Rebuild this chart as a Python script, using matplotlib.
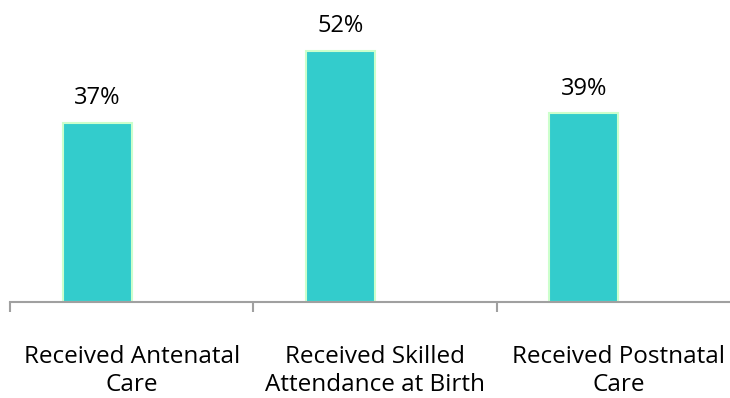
import numpy as np
import matplotlib.pyplot as plt

categories = ['Received Antenatal\nCare', 'Received Skilled\nAttendance at Birth', 'Received Postnatal\nCare']
values = [37, 52, 39]

fig = plt.figure(figsize=(7.3, 3.98), dpi=100)
ax = fig.add_axes([10 / 730, 96 / 398, 730 / 730, 290 / 398])

x = np.arange(len(values))
w = 0.284
# bars sit left of the category centre (empty second series in the original)
bars = ax.bar(x - w / 2, values, width=w, color='#33CCCC', edgecolor='#CCFFCC', linewidth=1.5)

for xi, v in zip(x, values):
    ax.annotate('%d%%' % v, (xi - w / 2, v), xytext=(0, 13.5), textcoords='offset points',
                ha='center', va='baseline', fontsize=17, family='Open Sans')

ax.set_xlim(-0.5, 2.5)
ax.set_ylim(0, 60)
ax.set_xticks(x)
ax.set_xticklabels(categories, fontsize=17.5, family='Open Sans', linespacing=1.2)
ax.set_xticks([-0.5, 0.5, 1.5, 2.5], minor=True)
ax.tick_params(axis='x', which='major', length=0, pad=31)
ax.tick_params(axis='x', which='minor', length=7, color='#A0A0A0', width=1.5)
ax.set_yticks([])
for s in ['top', 'right', 'left']:
    ax.spines[s].set_visible(False)
ax.spines['bottom'].set_color('#A0A0A0')
ax.spines['bottom'].set_linewidth(1.5)

fig.savefig('out.png', dpi=100)
